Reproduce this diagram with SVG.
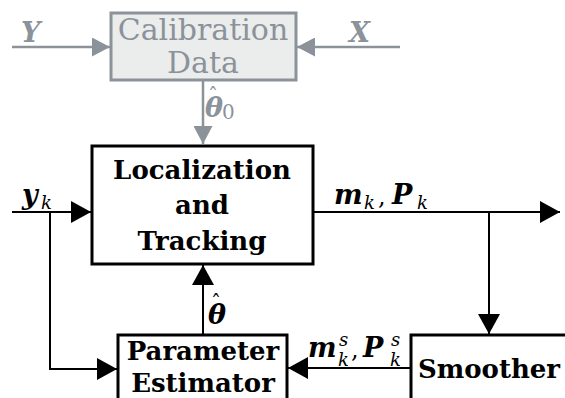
<svg xmlns="http://www.w3.org/2000/svg" width="565" height="398" viewBox="0 0 565 398">
  <style>
    .box { fill: #ffffff; stroke: #000000; stroke-width: 3; }
    .gbox { fill: #ebecec; stroke: #8b929a; stroke-width: 3; }
    .lbl { font-family: "DejaVu Serif", "Liberation Serif", serif; font-weight: bold; font-size: 26px; fill: #000000; text-anchor: middle; }
    .glbl { font-family: "DejaVu Serif", "Liberation Serif", serif; font-size: 30px; fill: #8b929a; text-anchor: middle; }
    .wire { fill: none; stroke: #000000; stroke-width: 2; }
    .gwire { fill: none; stroke: #8b929a; stroke-width: 2.5; }
    .sym { font-family: "DejaVu Serif", "Liberation Serif", serif; font-style: italic; font-weight: bold; font-size: 27px; fill: #000000; }
    .idx { font-family: "DejaVu Serif", "Liberation Serif", serif; font-style: italic; font-size: 18px; fill: #000000; }
    .pun { font-family: "DejaVu Serif", "Liberation Serif", serif; font-size: 24px; fill: #000000; }
    .acc { font-style: normal; font-weight: normal; font-size: 20px; }
    .grey { fill: #8b929a; }
  </style>
  <defs>
    <marker id="arr" markerUnits="userSpaceOnUse" markerWidth="20" markerHeight="22" refX="20" refY="11" orient="auto">
      <path d="M0,0 L20,11 L0,22 Z" fill="#000000"/>
    </marker>
    <marker id="garr" markerUnits="userSpaceOnUse" markerWidth="18" markerHeight="19" refX="18" refY="9.5" orient="auto">
      <path d="M0,0 L18,9.5 L0,19 Z" fill="#8b929a"/>
    </marker>
  </defs>

  <!-- connectors -->
  <g id="connectors">
    <line class="gwire" x1="12" y1="47" x2="110" y2="47" marker-end="url(#garr)"/>
    <line class="gwire" x1="400" y1="47" x2="297" y2="47" marker-end="url(#garr)"/>
    <line class="gwire" x1="203" y1="80" x2="203" y2="144" marker-end="url(#garr)"/>
    <line class="wire" x1="12" y1="212" x2="91" y2="212" marker-end="url(#arr)"/>
    <polyline class="wire" points="50,212 50,369 117,369" marker-end="url(#arr)"/>
    <line class="wire" x1="313" y1="212" x2="560" y2="212" marker-end="url(#arr)"/>
    <line class="wire" x1="489" y1="212" x2="489" y2="334" marker-end="url(#arr)"/>
    <line class="wire" x1="411" y1="368" x2="288" y2="368" marker-end="url(#arr)"/>
    <line class="wire" x1="203" y1="335" x2="203" y2="265" marker-end="url(#arr)"/>
  </g>

  <!-- connector labels -->
  <g id="labels">
    <text class="sym grey" x="21" y="42">Y</text>
    <text class="sym grey" x="349" y="42">X</text>

    <text class="sym grey" x="205" y="117">θ<tspan class="acc" x="208" y="103">ˆ</tspan><tspan class="acc" x="222" y="119">0</tspan></text>

    <text class="sym" x="22" y="204">y</text>
    <text class="idx" x="41" y="209">k</text>

    <text class="sym" x="334" y="204">m</text>
    <text class="idx" x="364" y="209">k</text>
    <text class="pun" x="378" y="205">,</text>
    <text class="sym" x="392" y="204">P</text>
    <text class="idx" x="417" y="209">k</text>

    <text class="sym" x="208" y="324">θ<tspan class="acc" x="211" y="310">ˆ</tspan></text>

    <text class="sym" x="308" y="357">m</text>
    <text class="idx" x="339" y="346">s</text>
    <text class="idx" x="338" y="366">k</text>
    <text class="pun" x="351" y="358">,</text>
    <text class="sym" x="363" y="357">P</text>
    <text class="idx" x="391" y="346">s</text>
    <text class="idx" x="390" y="366">k</text>
  </g>

  <!-- nodes -->
  <g id="calibration">
    <rect class="gbox" x="111" y="13" width="185" height="67"/>
    <text class="glbl" x="203" y="40">Calibration</text>
    <text class="glbl" x="203" y="73">Data</text>
  </g>
  <g id="localization">
    <rect class="box" x="92" y="146" width="221" height="118"/>
    <text class="lbl" x="202" y="179">Localization</text>
    <text class="lbl" x="202" y="214">and</text>
    <text class="lbl" x="202" y="250">Tracking</text>
  </g>
  <g id="estimator">
    <rect class="box" x="118" y="335" width="169" height="80"/>
    <text class="lbl" x="203" y="360">Parameter</text>
    <text class="lbl" x="203" y="392">Estimator</text>
  </g>
  <g id="smoother">
    <rect class="box" x="411" y="335" width="170" height="80"/>
    <text class="lbl" x="489" y="378">Smoother</text>
  </g>
</svg>
